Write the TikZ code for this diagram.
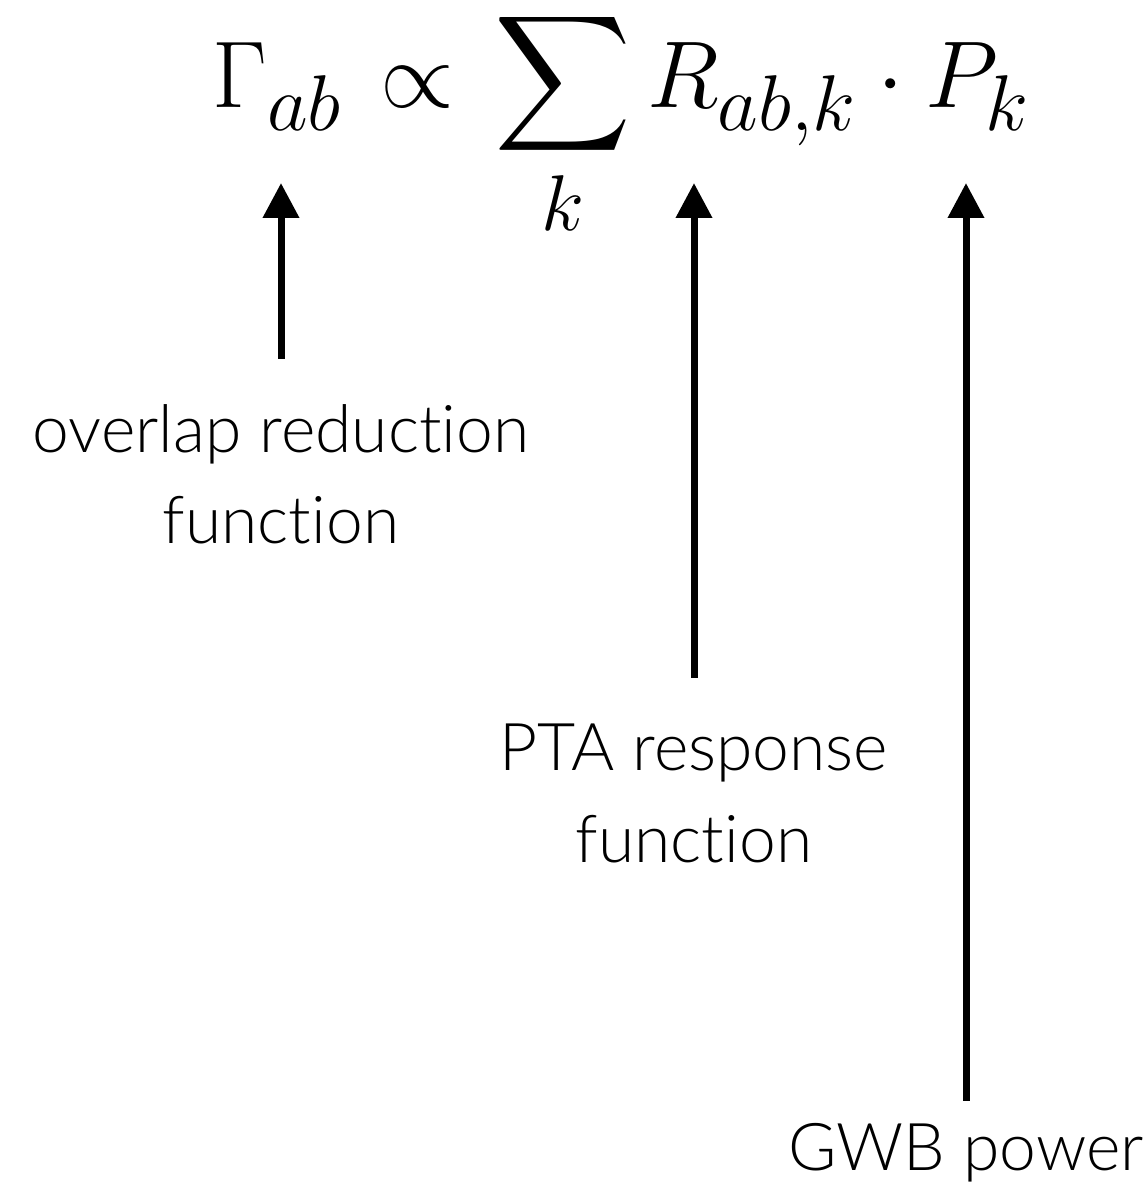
\RequirePackage{fix-cm}
\documentclass[tikz,border=0pt]{standalone}
\DeclareFontShape{OMX}{cmex}{m}{n}{<->cmex10}{}
\DeclareMathSizes{54}{54}{45}{37.5}
\usepackage{fontspec}
\IfFontExistsTF{Lato Light}
    {\setmainfont{Lato Light}[Ligatures=NoCommon]}
    {\setmainfont{Lato}[Ligatures=NoCommon]}
\usetikzlibrary{arrows.meta,positioning}

\begin{document}
\begin{tikzpicture}[
    desc/.style={
        align=center,
        inner sep=0pt,
        anchor=north,
        font=\fontsize{37.5}{52}\selectfont
    },
    uparrow/.style={
        line width=1.4mm,
        -{Triangle[length=7mm,width=7mm]}
    }
]
\useasboundingbox (0,0) rectangle (22.94,23.78);

% Formula
\node[anchor=base west, inner sep=0pt, font=\fontsize{54}{60}\selectfont] (eq) at (4.24,21.62)
    {\thickmuskip=7.5mu $\displaystyle \Gamma_{ab} \propto \sum_k R_{ab,k} \cdot P_k$};

% Arrow tips
\coordinate (tipG) at (5.62,20.12);
\coordinate (tipR) at (13.88,20.12);
\coordinate (tipP) at (19.32,20.12);

% Labels
\node[desc] (orf) at (5.62,15.70) {overlap reduction\\function};
\node[desc] (pta) at (13.88,9.30) {PTA response\\function};
\node[desc] (gwb) at (19.32,1.32) {GWB power};

% Arrows
\draw[uparrow, shorten <=0.90cm] (orf.north) -- (tipG);
\draw[uparrow, shorten <=0.92cm] (pta.north) -- (tipR);
\draw[uparrow, shorten <=0.44cm] (gwb.north) -- (tipP);

\end{tikzpicture}
\end{document}
